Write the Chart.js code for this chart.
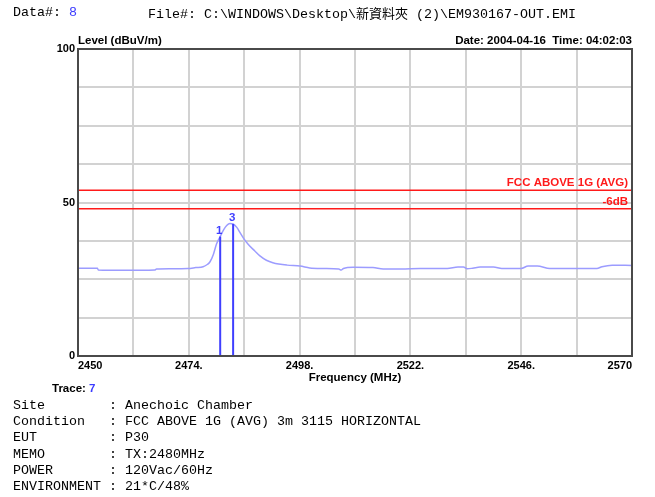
<!DOCTYPE html>
<html><head><meta charset="utf-8">
<script src="https://cdn.jsdelivr.net/npm/chart.js@4/dist/chart.umd.min.js"></script>
<style>
html,body{margin:0;padding:0;background:#fff;}
#wrap{position:relative;width:655px;height:497px;overflow:hidden;background:#fff;}
canvas{position:absolute;left:0;top:0;}
.t{position:absolute;white-space:pre;}
.mono{font-family:"Liberation Mono",monospace;font-size:13.33px;line-height:16px;color:#000;}
.cjk{font-family:"Noto Sans CJK TC",sans-serif;font-size:13px;}
.bold{font-family:"Liberation Sans",Arial,sans-serif;font-weight:bold;font-size:11.5px;line-height:14px;color:#000;}
.blue{color:#3c3cff;}
</style></head><body>
<div id="wrap">
<canvas id="c" width="655" height="497"></canvas>
<div class="t mono" style="left:13px;top:5px">Data#: <span class="blue">8</span></div>
<div class="t mono" style="left:148px;top:5px">File#: C:\WINDOWS\Desktop\<span class="cjk">新資料夾</span> (2)\EM930167-OUT.EMI</div>
<div class="t bold" style="left:78px;top:33px">Level (dBuV/m)</div>
<div class="t bold" style="right:23px;top:33px">Date: 2004-04-16  Time: 04:02:03</div>
<div class="t bold" style="left:52px;top:381px">Trace: <span class="blue">7</span></div>
<div id="info" class="t mono" style="left:13px;top:398px;line-height:16.2px"></div>
</div>
<script>
// ---- data ----
const freqMHz = [2450.0, 2454.2, 2454.4, 2460.0, 2466.6, 2467.0, 2470.0, 2473.8, 2475.5, 2477.1,
  2478.0, 2478.6, 2479.3, 2480.0, 2480.8, 2481.5, 2482.2, 2482.9, 2483.6, 2484.4,
  2485.1, 2485.8, 2486.9, 2488.3, 2489.4, 2490.8, 2492.2, 2495.3, 2498.1, 2500.2,
  2503.0, 2506.5, 2507.0, 2507.5, 2509.6, 2513.9, 2516.1, 2520.0, 2524.1, 2530.0,
  2532.3, 2533.5, 2534.3, 2535.5, 2537.1, 2540.0, 2541.8, 2546.0, 2547.5, 2549.5,
  2552.2, 2562.4, 2563.5, 2565.7, 2570.0];
const levelDb = [28.6, 28.6, 28.0, 27.9, 28.0, 28.3, 28.4, 28.5, 28.8, 29.1,
  29.8, 30.7, 33.0, 36.5, 38.9, 41.0, 42.5, 43.2, 43.0, 41.9,
  40.2, 38.5, 36.3, 34.2, 32.6, 31.2, 30.4, 29.6, 29.3, 28.7,
  28.5, 28.3, 28.0, 28.5, 28.9, 28.8, 28.3, 28.3, 28.5, 28.5,
  29.0, 29.0, 28.4, 28.6, 29.0, 29.0, 28.5, 28.5, 29.3, 29.3,
  28.5, 28.5, 29.1, 29.6, 29.5];
const markerFreqs = [2480.8, 2483.6];
const markerLevels = [38.9, 43.0];
const markerNames = ['1', '3'];
const limitLevels = [54, 48];
const limitNames = ['FCC ABOVE 1G (AVG)', '-6dB'];
const xMin = 2450, xMax = 2570, xGridStep = 12;
const xTickValues = [2450, 2474, 2498, 2522, 2546, 2570];
const xTickLabels = ['2450', '2474.', '2498.', '2522.', '2546.', '2570'];
const yMin = 0, yMax = 100, yGridStep = 12.5;
const yTickValues = [0, 50, 100];
const yTickLabels = ['0', '50', '100'];
const infoLabels = ['Site', 'Condition', 'EUT', 'MEMO', 'POWER', 'ENVIRONMENT'];
const infoValues = ['Anechoic Chamber', 'FCC ABOVE 1G (AVG) 3m 3115 HORIZONTAL', 'P30', 'TX:2480MHz', '120Vac/60Hz', '21*C/48%'];

document.getElementById('info').textContent =
  infoLabels.map((l, i) => l.padEnd(12, ' ') + ': ' + infoValues[i]).join('\n');

const BLUE = '#3f3fff', TRACE = '#9c9cff', RED = '#ff1a1a', FRAME = '#4a4a4a', GRID = '#d2d2d2';
const FONT = {family: '"Liberation Sans", Arial, sans-serif', weight: 'bold', size: 11};

const datasets = [];
markerFreqs.forEach((f, i) => datasets.push({
  data: [{x: f, y: 0}, {x: f, y: markerLevels[i]}],
  borderColor: BLUE, borderWidth: 2, pointRadius: 0
}));
limitLevels.forEach(l => datasets.push({
  data: [{x: xMin, y: l}, {x: xMax, y: l}],
  borderColor: RED, borderWidth: 1.5, pointRadius: 0
}));
datasets.push({
  data: freqMHz.map((f, i) => ({x: f, y: levelDb[i]})),
  borderColor: TRACE, borderWidth: 1.5, pointRadius: 0, cubicInterpolationMode: 'monotone'
});

const overlay = {
  id: 'overlay',
  afterDatasetsDraw(chart) {
    const {ctx, chartArea: a, scales: {x, y}} = chart;
    ctx.save();
    ctx.font = 'bold 11.5px "Liberation Sans", Arial, sans-serif';
    ctx.textBaseline = 'middle';
    ctx.fillStyle = RED; ctx.textAlign = 'right';
    limitLevels.forEach((l, i) => ctx.fillText(limitNames[i], x.getPixelForValue(xMax) - 4, y.getPixelForValue(l) - 7));
    ctx.fillStyle = BLUE; ctx.textAlign = 'center';
    markerFreqs.forEach((f, i) => ctx.fillText(markerNames[i], x.getPixelForValue(f) - 1, y.getPixelForValue(markerLevels[i]) - 6));
    ctx.strokeStyle = FRAME; ctx.lineWidth = 2;
    ctx.strokeRect(a.left, a.top, a.right - a.left, a.bottom - a.top);
    ctx.restore();
  }
};

new Chart(document.getElementById('c'), {
  type: 'line',
  data: {datasets},
  plugins: [overlay],
  options: {
    responsive: false, animation: false, parsing: true,
    layout: {padding: {left: 0, top: 49, right: 23, bottom: 111}},
    plugins: {legend: {display: false}, tooltip: {enabled: false}},
    scales: {
      x: {
        type: 'linear', min: xMin, max: xMax,
        afterFit: s => { s.height = 30; },
        grid: {color: GRID, lineWidth: 2, drawTicks: false},
        border: {color: FRAME, width: 2},
        ticks: {
          stepSize: xGridStep, autoSkip: false, maxRotation: 0, align: 'inner', padding: 3,
          color: '#000', font: FONT,
          callback: v => { const i = xTickValues.indexOf(v); return i >= 0 ? xTickLabels[i] : ''; }
        },
        title: {display: true, text: 'Frequency (MHz)', color: '#000',
          font: {family: FONT.family, weight: 'bold', size: 11.5}, padding: {top: 0, bottom: 1}}
      },
      y: {
        type: 'linear', min: yMin, max: yMax,
        afterFit: s => { s.width = 78; },
        grid: {color: GRID, lineWidth: 2, drawTicks: false},
        border: {color: FRAME, width: 2},
        ticks: {
          stepSize: yGridStep, autoSkip: false, padding: 3, color: '#000', font: FONT,
          callback: v => { const i = yTickValues.indexOf(v); return i >= 0 ? yTickLabels[i] : ''; }
        }
      }
    }
  }
});
</script>
</body></html>
